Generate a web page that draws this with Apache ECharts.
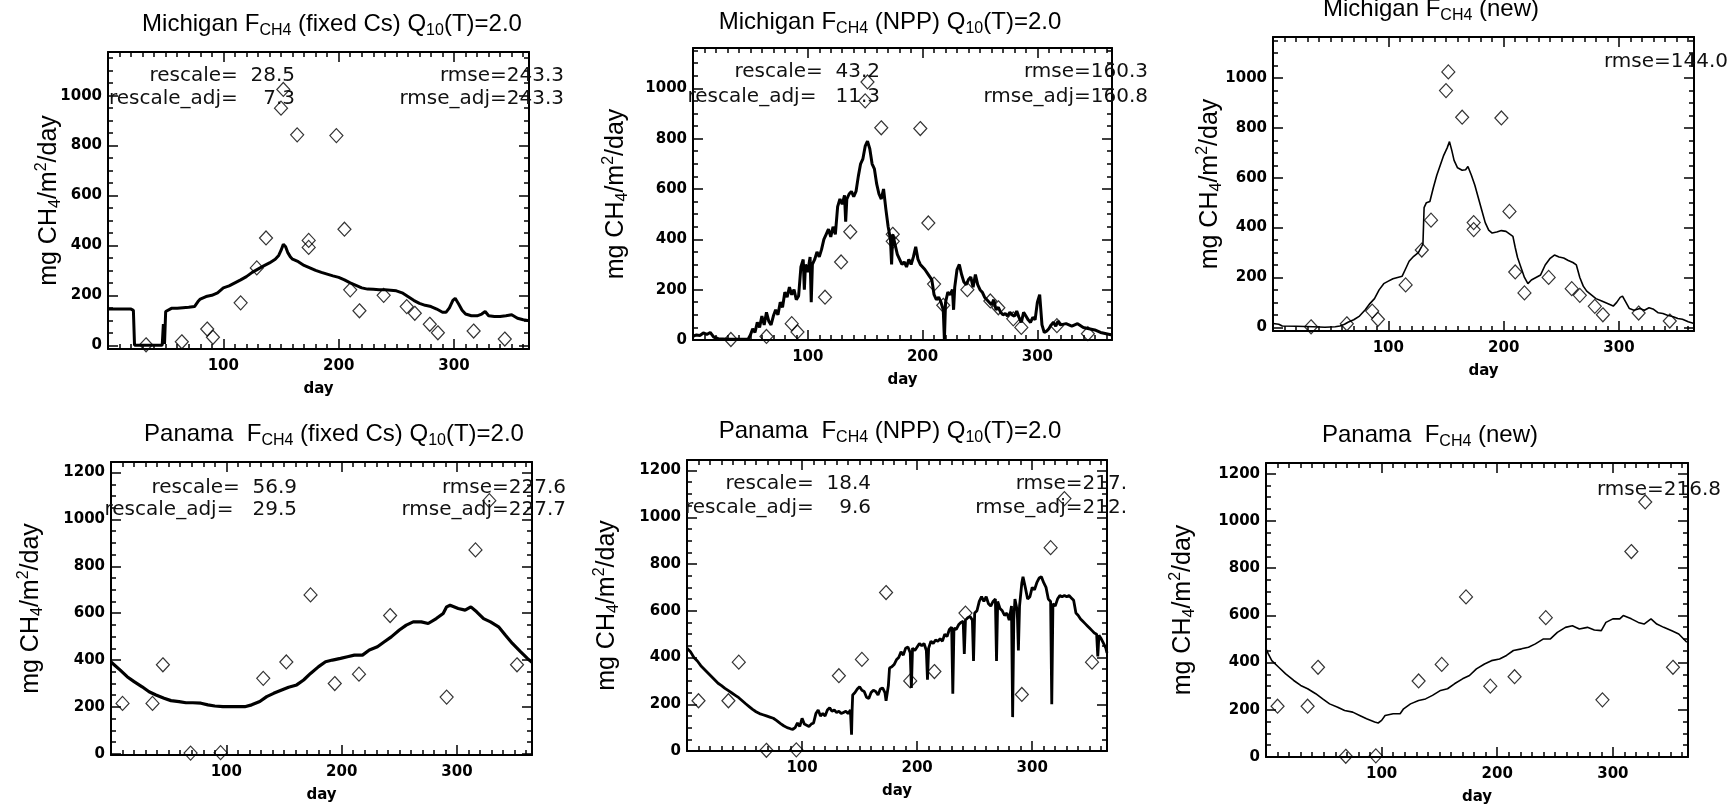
<!DOCTYPE html>
<html><head><meta charset="utf-8">
<script src="https://cdn.jsdelivr.net/npm/echarts@6/dist/echarts.min.js"></script>
<style>html,body{margin:0;padding:0;background:#fff}#c{width:1735px;height:805px}</style>
</head><body><div id="c"></div>
<script>
// ---------------- DATA ----------------
const xTickLabels = [100, 200, 300];
const yTickLabelsMich = [0, 200, 400, 600, 800, 1000];
const yTickLabelsPan = [0, 200, 400, 600, 800, 1000, 1200];

const michObsDays = [33, 64, 86, 91, 115, 129, 137, 150, 152, 164, 174, 174, 198, 205, 210, 218, 239, 259, 266, 279, 286, 317, 344];
const michObsVals = [2, 14, 65, 32, 170, 310, 430, 950, 1025, 843, 420, 392, 840, 465, 222, 138, 200, 155, 128, 84, 50, 57, 25];
const panObsDays = [10, 36, 45, 69, 95, 132, 152, 173, 194, 215, 242, 291, 316, 328, 352];
const panObsVals = [215, 215, 380, 3, 5, 322, 392, 678, 300, 340, 590, 242, 870, 1080, 380];

// Michigan, fixed Cs
const p1Days = [0,5,10,15,20,22,23,30,40,47,48,49,50,55,60,65,70,75,78,80,85,90,95,100,105,110,115,120,125,130,135,140,145,148,150,152,154,156,158,160,165,170,175,180,185,190,195,200,205,210,215,220,225,230,235,240,245,250,255,260,265,270,275,280,285,290,293,296,299,301,304,307,310,315,320,324,327,330,335,340,345,350,355,360,365];
const p1Vals = [145,145,145,145,145,140,0,0,0,0,85,5,135,148,148,150,152,155,175,185,195,200,210,230,238,250,262,275,292,305,318,330,345,360,380,405,395,370,355,345,335,320,310,300,292,285,278,272,262,250,240,230,225,224,222,222,220,218,210,195,180,168,160,155,145,132,132,150,180,188,165,140,125,118,118,125,135,118,115,115,118,122,108,102,98];

// Michigan, NPP
const p2Days = [0,3,6,9,12,15,18,22,30,40,48,50,52,54,56,58,60,62,64,66,68,70,72,74,76,78,80,82,84,86,88,90,92,94,96,97,98,100,102,103,104,106,108,110,112,114,116,118,120,122,124,126,128,130,132,133,134,136,138,140,142,144,146,148,150,152,154,156,158,160,162,164,166,168,170,172,173,174,176,178,180,182,184,186,188,190,192,194,196,198,200,202,205,208,210,212,214,216,218,219,220,222,224,226,227,228,230,232,234,236,238,240,242,244,246,248,250,252,254,256,258,260,262,264,266,268,270,272,274,276,278,280,282,284,286,288,290,292,294,296,298,300,302,304,306,308,310,312,314,316,318,320,325,330,335,340,345,350,355,360,365];
const p2Vals = [15,20,18,28,22,30,12,5,3,3,3,20,45,30,70,50,95,60,110,75,60,95,120,100,150,130,190,170,210,180,200,160,175,290,320,200,300,270,330,150,300,320,350,330,360,400,420,440,410,450,420,530,560,540,575,470,560,580,590,570,590,650,700,720,770,790,760,700,680,620,580,560,600,520,450,400,300,420,380,340,320,300,310,290,320,300,330,370,320,300,290,280,260,240,180,160,170,150,120,0,150,190,180,200,120,210,280,300,260,230,220,240,250,210,260,220,200,190,170,160,150,140,160,120,130,110,100,105,95,110,100,95,115,90,70,110,95,80,70,90,80,150,180,60,30,35,45,60,70,55,75,60,65,55,65,50,45,40,30,25,20];

// Michigan, new
const p3Days = [0,5,8,20,35,45,54,58,62,65,70,75,80,84,88,92,96,100,104,108,112,115,118,122,126,129,130,131,133,136,139,142,145,148,151,153,155,157,160,164,167,169,172,175,178,181,184,187,190,194,198,202,205,208,210,212,215,218,221,224,228,232,236,240,244,248,252,256,260,263,266,269,272,276,280,285,290,295,298,301,303,306,309,313,318,322,326,330,334,338,342,347,351,355,360,365];
const p3Vals = [15,12,5,4,2,0,2,5,12,20,30,45,70,95,115,150,175,185,195,200,205,235,265,285,300,325,335,480,500,505,560,610,650,690,720,745,710,670,640,630,632,645,610,570,520,470,420,390,378,382,388,385,375,365,320,280,240,200,175,190,200,210,250,275,290,282,278,268,260,250,200,165,145,130,115,105,95,85,100,120,125,100,75,68,75,68,78,72,58,55,48,42,35,32,22,15];

// Panama, fixed Cs
const p4Days = [0,8,14,20,27,33,39,46,52,59,65,71,78,84,90,97,103,110,116,122,129,135,141,148,154,161,167,173,180,186,192,199,205,211,218,224,231,237,243,250,256,262,269,275,282,288,291,294,301,307,312,317,323,329,336,342,348,355,361,365];
const p4Vals = [392,357,329,308,286,265,251,237,227,223,218,218,216,209,204,201,201,201,201,209,223,244,258,272,284,294,315,343,372,393,400,407,414,421,421,443,457,478,499,528,549,563,563,556,577,599,627,634,620,613,627,606,577,563,542,506,471,436,407,390];

// Panama, NPP
const p5Days = [0,3,6,9,12,15,18,21,24,27,30,33,36,39,42,45,48,51,54,57,60,63,66,69,72,75,78,81,84,87,90,92,94,96,98,100,102,104,106,108,110,112,114,116,118,120,122,124,126,128,130,132,134,136,138,140,142,143,143.5,144,146,148,150,152,154,156,158,160,162,164,166,168,170,172,173,175,176,178,180,182,184,186,188,190,192,194,195,196,198,200,202,204,206,208,209,210,212,214,216,218,220,222,224,226,228,230,231,232,234,236,238,240,241,242,244,246,248,249,250,252,254,256,258,260,262,264,266,268,269,270,272,274,276,278,280,282,283,284,285,287,288,289,291,292,294,296,298,300,302,304,306,308,310,312,314,316,317,318,320,322,324,326,328,330,332,334,336,338,340,342,344,346,348,350,352,354,356,357,358,360,362,364,365];
const p5Vals = [440,425,400,385,365,350,335,320,305,290,280,268,258,248,238,228,215,202,190,178,168,160,155,150,145,140,130,118,108,100,95,93,100,120,105,140,115,110,105,115,120,160,175,150,160,150,175,185,170,175,165,170,160,165,170,160,175,70,175,240,250,265,275,260,255,230,225,250,260,255,240,265,270,250,215,280,355,360,370,390,400,425,410,440,445,420,270,440,430,445,460,450,460,430,305,440,470,460,475,470,480,470,500,490,520,530,245,525,520,540,550,555,415,560,570,575,560,385,590,600,640,660,640,660,630,620,640,650,385,640,610,600,580,590,560,620,145,560,650,600,430,620,720,745,700,650,660,700,690,720,740,745,720,700,650,640,200,630,620,650,665,660,665,660,665,655,645,590,580,565,555,545,535,525,515,505,500,405,495,480,460,440,420];

// Panama, new
const p6Days = [0,2,5,11,17,24,30,36,43,49,55,62,68,75,81,87,94,97,98,100,103,110,116,119,125,132,138,144,151,157,163,170,176,182,189,195,202,208,214,221,227,233,240,246,252,259,265,271,278,284,290,294,300,306,309,316,322,327,333,338,344,351,357,364];
const p6Vals = [458,437,408,380,352,324,303,289,268,246,225,211,197,190,176,162,148,144,148,155,176,183,183,204,225,239,246,261,282,289,310,331,345,373,394,408,415,430,451,458,465,479,500,500,528,549,556,542,549,538,535,570,585,585,599,585,570,563,585,563,549,535,521,486];

const titlesText = [
  '{n|Michigan F}{s|CH4}{n| (fixed Cs) Q}{s|10}{n|(T)=2.0}',
  '{n|Michigan F}{s|CH4}{n| (NPP) Q}{s|10}{n|(T)=2.0}',
  '{n|Michigan F}{s|CH4}{n| (new)}',
  '{n|Panama  F}{s|CH4}{n| (fixed Cs) Q}{s|10}{n|(T)=2.0}',
  '{n|Panama  F}{s|CH4}{n| (NPP) Q}{s|10}{n|(T)=2.0}',
  '{n|Panama  F}{s|CH4}{n| (new)}'
];
const leftNotes = [
  ['rescale=  28.5', 'rescale_adj=    7.3'],
  ['rescale=  43.2', 'rescale_adj=   11.3'],
  null,
  ['rescale=  56.9', 'rescale_adj=   29.5'],
  ['rescale=  18.4', 'rescale_adj=    9.6'],
  null
];
const rightNotes = [
  ['rmse=243.3', 'rmse_adj=243.3'],
  ['rmse=160.3', 'rmse_adj=160.8'],
  ['rmse=144.0'],
  ['rmse=227.6', 'rmse_adj=227.7'],
  ['rmse=217.', 'rmse_adj=212.'],
  ['rmse=216.8']
];

// ---------------- LAYOUT ----------------
const panels = [
  {left:108, top:52, width:421, height:297, ymin:-15, ymax:1175, yl:yTickLabelsMich, days:p1Days, vals:p1Vals, od:michObsDays, ov:michObsVals, lw:3, nameGap:44, tx:332, ty:24, lx:295, rx:564, y1:76, y2:99},
  {left:693, top:48, width:419, height:292, ymin:0, ymax:1160, yl:yTickLabelsMich, days:p2Days, vals:p2Vals, od:michObsDays, ov:michObsVals, lw:3, nameGap:62, tx:890, ty:22, lx:880, rx:1148, y1:72, y2:97},
  {left:1273, top:37, width:421, height:294, ymin:-15, ymax:1165, yl:yTickLabelsMich, days:p3Days, vals:p3Vals, od:michObsDays, ov:michObsVals, lw:1.6, nameGap:48, tx:1431, ty:9, lx:0, rx:1728, y1:62, y2:0},
  {left:111, top:462, width:421, height:293, ymin:-5, ymax:1245, yl:yTickLabelsPan, days:p4Days, vals:p4Vals, od:panObsDays, ov:panObsVals, lw:3.2, nameGap:65, tx:334, ty:434, lx:297, rx:566, y1:488, y2:510},
  {left:687, top:460, width:420, height:291, ymin:0, ymax:1245, yl:yTickLabelsPan, days:p5Days, vals:p5Vals, od:panObsDays, ov:panObsVals, lw:2.8, nameGap:65, tx:890, ty:431, lx:871, rx:1127, y1:484, y2:508},
  {left:1266, top:463, width:422, height:294, ymin:0, ymax:1245, yl:yTickLabelsPan, days:p6Days, vals:p6Vals, od:panObsDays, ov:panObsVals, lw:1.6, nameGap:68, tx:1430, ty:435, lx:0, rx:1721, y1:490, y2:0}
];

const XMIN = 0, XMAX = 365;
function range(a, b, s, skip) { const r = []; for (let v = a; v <= b; v += s) { if (v % skip !== 0) r.push(v); } return r; }
const xMinor = range(10, 360, 10, 100);

const tickFont = {fontFamily:'DejaVu Sans', fontWeight:'bold', fontSize:15, color:'#000', formatter:(v) => String(v)};
const lineSt = {color:'#000', width:2};
const tickSt = {color:'#000', width:1.5};

const grids = [], xAxes = [], yAxes = [], series = [], graphics = [];

panels.forEach((P, i) => {
  grids.push({left:P.left, top:P.top, width:P.width, height:P.height, containLabel:false, outerBoundsMode:'none'});
  const yMinor = range(50, P.ymax, 50, 200).filter(v => v >= P.ymin);
  const yMaj = P.yl.filter(v => v >= P.ymin && v <= P.ymax);
  const baseX = {gridIndex:i, type:'value', min:XMIN, max:XMAX, splitLine:{show:false}};
  const baseY = {gridIndex:i, type:'value', min:P.ymin, max:P.ymax, splitLine:{show:false}};
  xAxes.push(Object.assign({}, baseX, {
    position:'bottom',
    axisLine:{show:true, onZero:false, lineStyle:lineSt},
    axisTick:{show:true, inside:true, length:10, customValues:xTickLabels, lineStyle:tickSt},
    axisLabel:Object.assign({show:true, customValues:xTickLabels, margin:10}, tickFont),
    name:'day', nameLocation:'middle', nameGap:33, nameMoveOverlap:false,
    nameTextStyle:{fontFamily:'DejaVu Sans', fontWeight:'bold', fontSize:15, color:'#000'}
  }));
  xAxes.push(Object.assign({}, baseX, {position:'bottom', axisLine:{show:false, onZero:false},
    axisTick:{show:true, inside:true, length:5, customValues:xMinor, lineStyle:tickSt}, axisLabel:{show:false}}));
  xAxes.push(Object.assign({}, baseX, {position:'top', axisLine:{show:true, onZero:false, lineStyle:lineSt},
    axisTick:{show:true, inside:true, length:10, customValues:xTickLabels, lineStyle:tickSt}, axisLabel:{show:false}}));
  xAxes.push(Object.assign({}, baseX, {position:'top', axisLine:{show:false, onZero:false},
    axisTick:{show:true, inside:true, length:5, customValues:xMinor, lineStyle:tickSt}, axisLabel:{show:false}}));

  yAxes.push(Object.assign({}, baseY, {
    position:'left',
    axisLine:{show:true, onZero:false, lineStyle:lineSt},
    axisTick:{show:true, inside:true, length:10, customValues:yMaj, lineStyle:tickSt},
    axisLabel:Object.assign({show:true, customValues:yMaj, margin:6}, tickFont),
    name:'{n|mg CH}{s|4}{n|/m}{p|2}{n|/day}', nameLocation:'middle', nameGap:P.nameGap, nameMoveOverlap:false,
    nameTextStyle:{rich:{
      n:{fontFamily:'Liberation Sans', fontSize:25, lineHeight:30, color:'#000'},
      s:{fontFamily:'Liberation Sans', fontSize:16, lineHeight:10, color:'#000', verticalAlign:'bottom'},
      p:{fontFamily:'Liberation Sans', fontSize:16, lineHeight:15, color:'#000', verticalAlign:'top'}
    }}
  }));
  yAxes.push(Object.assign({}, baseY, {position:'left', axisLine:{show:false, onZero:false},
    axisTick:{show:true, inside:true, length:5, customValues:yMinor, lineStyle:tickSt}, axisLabel:{show:false}}));
  yAxes.push(Object.assign({}, baseY, {position:'right', axisLine:{show:true, onZero:false, lineStyle:lineSt},
    axisTick:{show:true, inside:true, length:10, customValues:yMaj, lineStyle:tickSt}, axisLabel:{show:false}}));
  yAxes.push(Object.assign({}, baseY, {position:'right', axisLine:{show:false, onZero:false},
    axisTick:{show:true, inside:true, length:5, customValues:yMinor, lineStyle:tickSt}, axisLabel:{show:false}}));

  series.push({type:'line', xAxisIndex:4*i, yAxisIndex:4*i, data:P.days.map((d, k) => [d, P.vals[k]]),
    showSymbol:false, symbol:'none', lineStyle:{color:'#000', width:P.lw}, silent:true, z:2});
  series.push({type:'scatter', xAxisIndex:4*i, yAxisIndex:4*i, data:P.od.map((d, k) => [d, P.ov[k]]),
    symbol:'diamond', symbolSize:[13, 14], clip:false,
    itemStyle:{color:'rgba(255,255,255,0)', borderColor:'#000', borderWidth:1.2}, z:3});

  graphics.push({type:'text', x:P.tx, y:P.ty, z:10, style:{
    text:titlesText[i], align:'center', verticalAlign:'middle',
    rich:{
      n:{fontFamily:'Liberation Sans', fontSize:24, lineHeight:29, fill:'#000'},
      s:{fontFamily:'Liberation Sans', fontSize:16, lineHeight:10, fill:'#000', verticalAlign:'bottom'}
    }}});
  const noteFont = {fontFamily:'DejaVu Sans', fontSize:20, fill:'#111'};
  if (leftNotes[i]) {
    graphics.push({type:'text', x:P.lx, y:P.y1, z:10, style:Object.assign({text:leftNotes[i][0], align:'right', verticalAlign:'middle'}, noteFont)});
    graphics.push({type:'text', x:P.lx, y:P.y2, z:10, style:Object.assign({text:leftNotes[i][1], align:'right', verticalAlign:'middle'}, noteFont)});
  }
  rightNotes[i].forEach((t, k) => {
    graphics.push({type:'text', x:P.rx, y:k === 0 ? P.y1 : P.y2, z:10, style:Object.assign({text:t, align:'right', verticalAlign:'middle'}, noteFont)});
  });
});

const chart = echarts.init(document.getElementById('c'), null, {renderer:'canvas', width:1735, height:805});
chart.setOption({
  backgroundColor:'#ffffff',
  animation:false,
  grid:grids, xAxis:xAxes, yAxis:yAxes, series:series,
  graphic:{elements:graphics}
});
</script></body></html>
